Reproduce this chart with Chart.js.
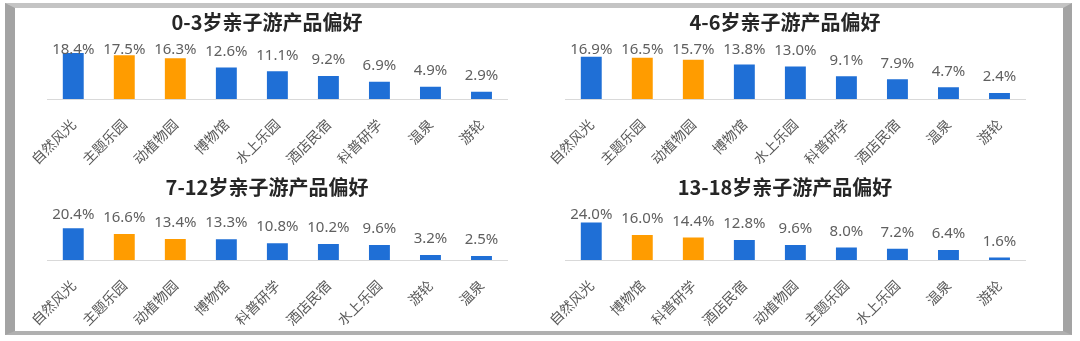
<!DOCTYPE html>
<html>
<head>
<meta charset="utf-8">
<script src="https://cdn.jsdelivr.net/npm/chart.js@4.4.1/dist/chart.umd.min.js"></script>
<style>
  html, body { margin: 0; padding: 0; background: #fff; width: 1080px; height: 341px; overflow: hidden; }
  #frame {
    position: absolute; left: 5px; top: 3px; width: 1048px; height: 323px;
    border-style: solid; border-color: #c4c4c4 #a3a3a3 #b0b0b0 #a3a3a3;
    border-width: 5px 9px 4px 10px; background: #fff;
  }
  .panel { position: absolute; width: 504px; }
</style>
</head>
<body>
<div id="frame"></div>
<div class="panel" style="left:15px;top:8px;height:162px"><canvas id="c0"></canvas></div>
<div class="panel" style="left:533px;top:8px;height:162px"><canvas id="c1"></canvas></div>
<div class="panel" style="left:15px;top:170px;height:161px"><canvas id="c2"></canvas></div>
<div class="panel" style="left:533px;top:170px;height:161px"><canvas id="c3"></canvas></div>
<script>
// data
const titles = ['0-3岁亲子游产品偏好', '4-6岁亲子游产品偏好', '7-12岁亲子游产品偏好', '13-18岁亲子游产品偏好'];

const cats0 = ['自然风光', '主题乐园', '动植物园', '博物馆', '水上乐园', '酒店民宿', '科普研学', '温泉', '游轮'];
const vals0 = [18.4, 17.5, 16.3, 12.6, 11.1, 9.2, 6.9, 4.9, 2.9];

const cats1 = ['自然风光', '主题乐园', '动植物园', '博物馆', '水上乐园', '科普研学', '酒店民宿', '温泉', '游轮'];
const vals1 = [16.9, 16.5, 15.7, 13.8, 13.0, 9.1, 7.9, 4.7, 2.4];

const cats2 = ['自然风光', '主题乐园', '动植物园', '博物馆', '科普研学', '酒店民宿', '水上乐园', '游轮', '温泉'];
const vals2 = [20.4, 16.6, 13.4, 13.3, 10.8, 10.2, 9.6, 3.2, 2.5];

const cats3 = ['自然风光', '博物馆', '科普研学', '酒店民宿', '动植物园', '主题乐园', '水上乐园', '温泉', '游轮'];
const vals3 = [24.0, 16.0, 14.4, 12.8, 9.6, 8.0, 7.2, 6.4, 1.6];

const orangeIdx = [1, 2]; // 2nd and 3rd bar highlighted
const yMaxTop = 22.4;
const yMaxBottom = 33.3;

const BLUE = '#1f6fd6';
const ORANGE = '#ff9c00';
const LABEL = '#595959';

// value labels above bars, kept below the title
const valueLabels = {
  id: 'valueLabels',
  afterDatasetsDraw(chart) {
    const ctx = chart.ctx;
    const meta = chart.getDatasetMeta(0);
    const data = chart.data.datasets[0].data;
    ctx.save();
    ctx.font = '15px "Noto Sans", sans-serif';
    ctx.fillStyle = '#606060';
    ctx.textAlign = 'center';
    ctx.textBaseline = 'middle';
    meta.data.forEach((bar, i) => {
      const y = Math.max(bar.y - 16, chart.chartArea.top + 7);
      ctx.fillText(data[i].toFixed(1) + '%', bar.x, y);
    });
    ctx.restore();
  }
};

function makeChart(id, title, cats, vals, yMax, titleTop) {
  new Chart(document.getElementById(id), {
    type: 'bar',
    data: {
      labels: cats,
      datasets: [{
        data: vals,
        backgroundColor: vals.map((v, i) => orangeIdx.includes(i) ? ORANGE : BLUE),
        barPercentage: 0.41,
        categoryPercentage: 1
      }]
    },
    options: {
      responsive: true,
      maintainAspectRatio: false,
      animation: false,
      layout: { padding: 0 },
      plugins: {
        legend: { display: false },
        tooltip: { enabled: false },
        title: {
          display: true,
          text: title,
          color: '#262626',
          font: { family: '"Noto Sans CJK SC", sans-serif', size: 20, weight: 'bold' },
          padding: { top: titleTop, bottom: 9 }
        }
      },
      scales: {
        x: {
          grid: { display: false, drawTicks: false },
          border: { display: true, color: '#d9d9d9', width: 1 },
          ticks: {
            color: LABEL,
            font: { family: '"Noto Sans CJK SC", sans-serif', size: 14 },
            minRotation: 45,
            maxRotation: 45,
            autoSkip: false,
            padding: 17
          },
          afterFit(scale) { scale.height = 71; }
        },
        y: {
          min: 0,
          max: yMax,
          display: true,
          grid: { display: false, drawTicks: false },
          border: { display: false },
          ticks: { display: false },
          afterFit(scale) { scale.width = 30; }
        },
        y1: {
          position: 'right',
          min: 0,
          max: 1,
          display: true,
          grid: { display: false, drawTicks: false },
          border: { display: false },
          ticks: { display: false },
          afterFit(scale) { scale.width = 12; }
        }
      }
    },
    plugins: [valueLabels]
  });
}

makeChart('c0', titles[0], cats0, vals0, yMaxTop, 2);
makeChart('c1', titles[1], cats1, vals1, yMaxTop, 2);
makeChart('c2', titles[2], cats2, vals2, yMaxBottom, 5);
makeChart('c3', titles[3], cats3, vals3, yMaxBottom, 5);
</script>
</body>
</html>
